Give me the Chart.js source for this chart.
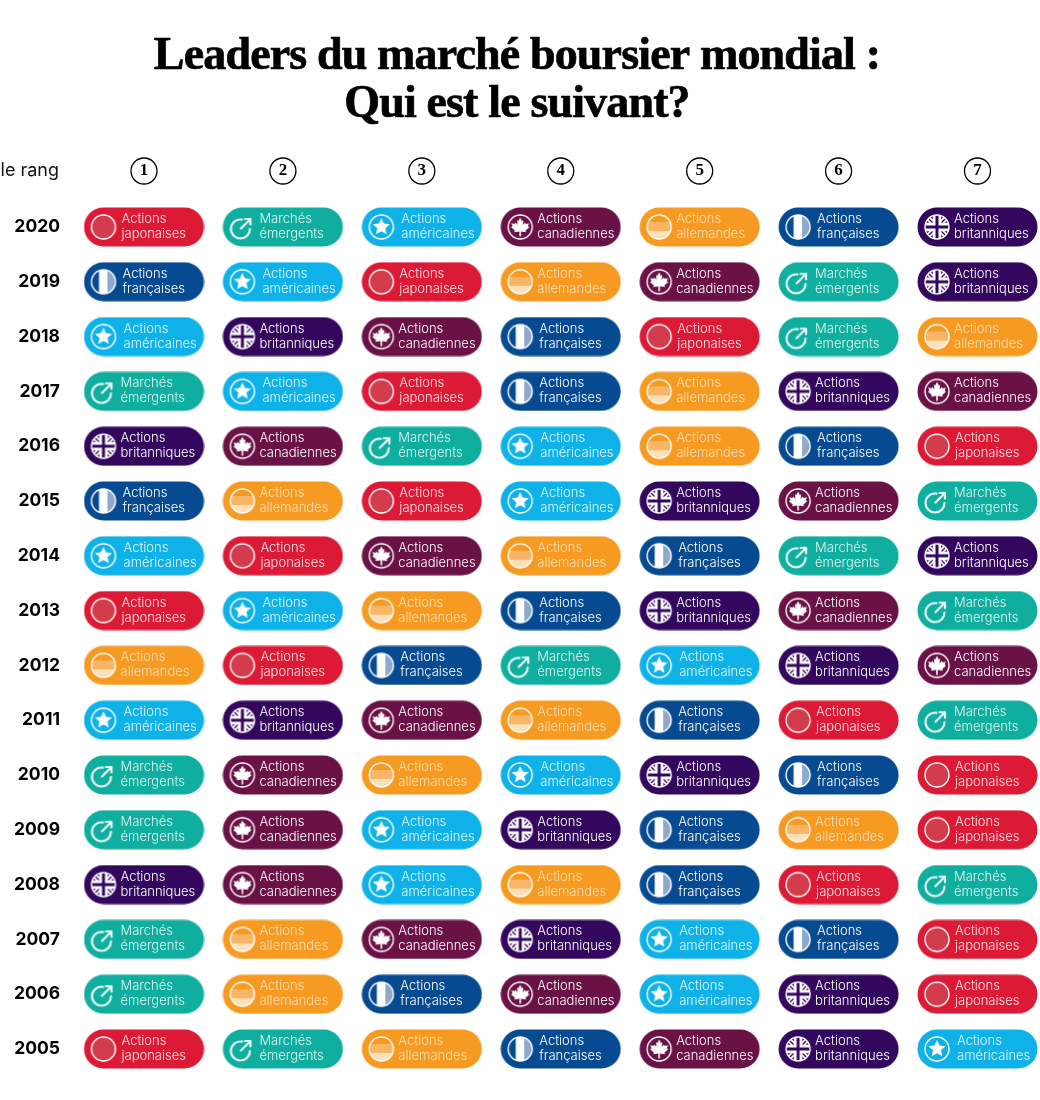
<!DOCTYPE html>
<html lang="fr">
<head>
<meta charset="utf-8">
<title>Leaders du marché boursier mondial</title>
<script src="https://cdn.jsdelivr.net/npm/chart.js@4"></script>
<style>
    html, body { margin: 0; padding: 0; background: #fff; overflow: hidden; }
    canvas { display: block; }
</style>
</head>
<body>
<canvas id="leadersChart" width="1040" height="1100"></canvas>
<script>
const years = ['2020', '2019', '2018', '2017', '2016', '2015', '2014', '2013', '2012', '2011', '2010', '2009', '2008', '2007', '2006', '2005'];
const ranks = ['1', '2', '3', '4', '5', '6', '7'];

// rang de chaque marché, de 2020 à 2005
const japonaises = [1, 3, 5, 3, 7, 3, 2, 1, 2, 6, 7, 7, 6, 7, 7, 1];
const emergents = [2, 6, 6, 1, 3, 7, 6, 7, 4, 7, 1, 1, 7, 1, 1, 2];
const americaines = [3, 2, 1, 2, 4, 4, 1, 2, 5, 1, 4, 3, 3, 5, 5, 7];
const canadiennes = [4, 5, 3, 7, 2, 6, 3, 6, 7, 3, 2, 2, 2, 3, 4, 5];
const allemandes = [5, 4, 7, 5, 5, 2, 4, 3, 1, 4, 3, 6, 4, 2, 2, 3];
const francaises = [6, 1, 4, 4, 6, 1, 5, 4, 3, 5, 6, 5, 5, 6, 3, 4];
const britanniques = [7, 7, 2, 6, 1, 5, 7, 5, 6, 2, 5, 4, 1, 4, 6, 6];

const titleLines = ['Leaders du marché boursier mondial :', 'Qui est le suivant?'];
const rankLabel = 'le rang';

const PILL_W = 121;
const PILL_H = 40;
const TEXT_FONT = '300 13px Inter';

const markets = [
    { lines: ['Actions', 'japonaises'], values: japonaises, color: '#dc1a35', text: '#fbe3e6', textX: 38, icon: drawJapan },
    { lines: ['Marchés', 'émergents'], values: emergents, color: '#10ae9f', text: '#dff6f3', textX: 37, icon: drawEmerging },
    { lines: ['Actions', 'américaines'], values: americaines, color: '#0fb2e8', text: '#e0f6fd', textX: 40, icon: drawUs },
    { lines: ['Actions', 'canadiennes'], values: canadiennes, color: '#6a1145', text: '#ffffff', textX: 37, icon: drawCanada },
    { lines: ['Actions', 'allemandes'], values: allemandes, color: '#f69a21', text: '#fcdfb4', textX: 37, icon: drawGermany },
    { lines: ['Actions', 'françaises'], values: francaises, color: '#064a92', text: '#ffffff', textX: 39, icon: drawFrance },
    { lines: ['Actions', 'britanniques'], values: britanniques, color: '#34075e', text: '#ffffff', textX: 37, icon: drawUk }
];

function ring(ctx, cx, cy, r) {
    ctx.beginPath();
    ctx.arc(cx, cy, r, 0, Math.PI * 2);
    ctx.strokeStyle = '#ffffff';
    ctx.lineWidth = 1.4;
    ctx.stroke();
}

function clipped(ctx, cx, cy, r, fn) {
    ctx.save();
    ctx.beginPath();
    ctx.arc(cx, cy, r, 0, Math.PI * 2);
    ctx.clip();
    fn();
    ctx.restore();
}

function drawJapan(ctx, cx, cy) {
    ctx.beginPath();
    ctx.arc(cx, cy, 12, 0, Math.PI * 2);
    ctx.fillStyle = '#d23c4d';
    ctx.fill();
    ring(ctx, cx, cy, 12);
}

function drawEmerging(ctx, cx, cy) {
    ctx.strokeStyle = '#e8faf7';
    ctx.lineWidth = 2.2;
    ctx.lineCap = 'round';
    ctx.lineJoin = 'round';
    ctx.beginPath();
    ctx.arc(cx - 2, cy + 2, 9.5, 0, -Math.PI * 0.45, false);
    ctx.stroke();
    ctx.beginPath();
    ctx.moveTo(cx - 1.5, cy + 1.5);
    ctx.lineTo(cx + 8, cy - 8);
    ctx.moveTo(cx + 2.5, cy - 8);
    ctx.lineTo(cx + 8, cy - 8);
    ctx.lineTo(cx + 8, cy - 2.5);
    ctx.stroke();
}

function drawUs(ctx, cx, cy) {
    ring(ctx, cx, cy, 12);
    ctx.beginPath();
    for (let i = 0; i < 10; i++) {
        const r = i % 2 === 0 ? 9 : 4.2;
        const a = -Math.PI / 2 + i * Math.PI / 5;
        ctx.lineTo(cx + r * Math.cos(a), cy + r * Math.sin(a));
    }
    ctx.closePath();
    ctx.fillStyle = '#ffffff';
    ctx.fill();
}

function drawCanada(ctx, cx, cy) {
    ring(ctx, cx, cy, 12);
    const half = [[0, -1], [0.18, -0.62], [0.32, -0.7], [0.27, -0.22], [0.5, -0.48], [0.58, -0.3], [0.92, -0.38], [0.8, -0.08], [0.95, 0.02], [0.55, 0.36], [0.62, 0.54], [0.08, 0.46], [0.08, 0.98]];
    const s = 9.6;
    ctx.beginPath();
    half.forEach(p => ctx.lineTo(cx + p[0] * s, cy + p[1] * s));
    half.slice().reverse().forEach(p => ctx.lineTo(cx - p[0] * s, cy + p[1] * s));
    ctx.closePath();
    ctx.fillStyle = '#ffffff';
    ctx.fill();
}

function drawGermany(ctx, cx, cy) {
    clipped(ctx, cx, cy, 12, () => {
        ctx.fillStyle = '#f9b566';
        ctx.fillRect(cx - 13, cy - 5, 26, 9);
        ctx.fillStyle = '#fde0b8';
        ctx.fillRect(cx - 13, cy + 4, 26, 9);
    });
    ring(ctx, cx, cy, 12);
}

function drawFrance(ctx, cx, cy) {
    clipped(ctx, cx, cy, 12, () => {
        ctx.fillStyle = '#ffffff';
        ctx.fillRect(cx - 4.5, cy - 13, 9, 26);
        ctx.fillStyle = '#8fa9cc';
        ctx.fillRect(cx + 4.5, cy - 13, 9, 26);
    });
    ring(ctx, cx, cy, 12);
}

function drawUk(ctx, cx, cy) {
    clipped(ctx, cx, cy, 12, () => {
        const line = (x0, y0, x1, y1, w, c) => {
            ctx.beginPath();
            ctx.moveTo(cx + x0, cy + y0);
            ctx.lineTo(cx + x1, cy + y1);
            ctx.lineWidth = w;
            ctx.strokeStyle = c;
            ctx.stroke();
        };
        line(-12, -12, 12, 12, 5, '#ffffff');
        line(-12, 12, 12, -12, 5, '#ffffff');
        line(-12, -12, 12, 12, 1.3, '#34075e');
        line(-12, 12, 12, -12, 1.3, '#34075e');
        line(0, -13, 0, 13, 8.4, '#ffffff');
        line(-13, 0, 13, 0, 8.4, '#ffffff');
        line(0, -13, 0, 13, 3, '#34075e');
        line(-13, 0, 13, 0, 3, '#34075e');
    });
    ring(ctx, cx, cy, 12);
}

// pastille pré-dessinée, utilisée comme pointStyle
function makePill(market) {
    const pill = document.createElement('canvas');
    pill.width = PILL_W;
    pill.height = PILL_H;
    const ctx = pill.getContext('2d');
    ctx.beginPath();
    ctx.roundRect(0.5, 0.5, PILL_W - 1, PILL_H - 1, (PILL_H - 1) / 2);
    ctx.fillStyle = market.color;
    ctx.fill();
    market.icon(ctx, 20, PILL_H / 2);
    return pill;
}

const pillLabels = {
    id: 'pillLabels',
    afterDatasetsDraw(chart) {
        const ctx = chart.ctx;
        ctx.save();
        ctx.font = TEXT_FONT;
        ctx.textAlign = 'left';
        ctx.textBaseline = 'middle';
        markets.forEach((market, i) => {
            ctx.fillStyle = market.text;
            chart.getDatasetMeta(i).data.forEach(point => {
                const left = point.x - PILL_W / 2 + market.textX;
                ctx.fillText(market.lines[0], left, point.y - 8);
                ctx.fillText(market.lines[1], left, point.y + 7);
            });
        });
        ctx.restore();
    }
};

const header = {
    id: 'header',
    afterDatasetsDraw(chart) {
        const ctx = chart.ctx;
        const scale = chart.scales.x;
        ctx.save();
        ctx.strokeStyle = '#000000';
        ctx.lineWidth = 1.3;
        ranks.forEach((rank, i) => {
            ctx.beginPath();
            ctx.arc(scale.getPixelForTick(i), 171, 13, 0, Math.PI * 2);
            ctx.stroke();
        });
        ctx.font = '400 18px Inter';
        ctx.fillStyle = '#111111';
        ctx.textAlign = 'right';
        ctx.textBaseline = 'middle';
        ctx.fillText(rankLabel, 59, 171);

        // titre sur deux lignes, resserré
        ctx.font = 'bold 46px "Liberation Serif"';
        ctx.letterSpacing = '-0.85px';
        ctx.textAlign = 'center';
        ctx.textBaseline = 'alphabetic';
        ctx.fillStyle = '#000000';
        ctx.strokeStyle = '#000000';
        ctx.lineWidth = 0.7;
        titleLines.forEach((line, i) => {
            ctx.fillText(line, 517, 69 + i * 48);
            ctx.strokeText(line, 517, 69 + i * 48);
        });
        ctx.restore();
    }
};

new Chart(document.getElementById('leadersChart').getContext('2d'), {
    type: 'scatter',
    data: {
        labels: ranks,
        datasets: markets.map(market => ({
            label: market.lines.join(' '),
            data: market.values.map((rank, i) => ({ x: String(rank), y: years[i] })),
            pointStyle: makePill(market),
            pointRadius: 5,
            clip: false
        }))
    },
    options: {
        responsive: false,
        animation: false,
        events: [],
        layout: { padding: { left: 0, right: 62.5, top: 127, bottom: 51 } },
        plugins: {
            legend: { display: false },
            tooltip: { enabled: false }
        },
        scales: {
            x: {
                type: 'category',
                labels: ranks,
                position: 'top',
                offset: false,
                grid: { display: false },
                border: { display: false },
                ticks: {
                    autoSkip: false,
                    maxRotation: 0,
                    padding: 38,
                    color: '#000000',
                    font: { family: 'Liberation Serif', size: 17, weight: 'bold' }
                },
                afterFit(scale) {
                    scale.height = 100;
                    scale.paddingLeft = scale.paddingRight = 0;
                }
            },
            y: {
                type: 'category',
                labels: years,
                offset: false,
                grid: { display: false },
                border: { display: false },
                ticks: {
                    autoSkip: false,
                    padding: 76,
                    color: '#000000',
                    font: { family: 'Inter', size: 17.5, weight: 'bold' }
                },
                afterFit(scale) {
                    scale.width = 144;
                    scale.paddingTop = scale.paddingBottom = 0;
                }
            }
        }
    },
    plugins: [pillLabels, header]
});
</script>
</body>
</html>
